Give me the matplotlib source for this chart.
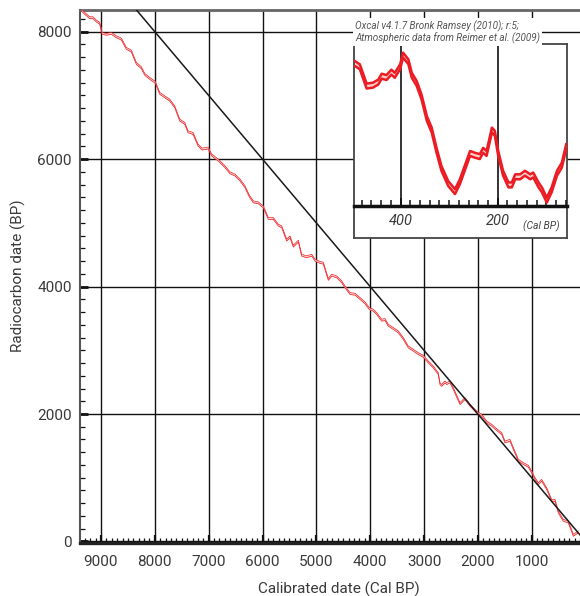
import numpy as np
import matplotlib
matplotlib.use("Agg")
import matplotlib.pyplot as plt
from matplotlib.ticker import MultipleLocator, FixedLocator

plt.rcParams['font.family'] = ['Roboto', 'DejaVu Sans']

# IntCal09 calibration curve (calendar age vs radiocarbon age)
cal_bp = [9366, 9303, 9210, 9149, 9087, 9024, 8981, 8902, 8809, 8716, 8623, 8530,
          8437, 8344, 8251, 8188, 8096, 7991, 7910, 7817, 7724, 7631, 7538, 7445,
          7384, 7291, 7198, 7124, 7010, 6944, 6821, 6697, 6604, 6511, 6418, 6325,
          6245, 6171, 6078, 5986, 5893, 5800, 5707, 5644, 5551, 5490, 5428, 5335,
          5273, 5180, 5087, 5025, 4932, 4871, 4778, 4715, 4622, 4529, 4468, 4375,
          4282, 4189, 4096, 4017, 3943, 3880, 3787, 3726, 3664, 3571, 3478, 3385,
          3293, 3200, 3107, 3014, 2921, 2828, 2735, 2704, 2672, 2611, 2579, 2518,
          2456, 2332, 2239, 2146, 2022, 1929, 1836, 1743, 1650, 1557, 1496, 1403,
          1341, 1248, 1155, 1062, 1000, 939, 877, 815, 722, 629, 568, 506, 413,
          320, 227, 134]
c14_bp = [8341, 8289, 8220, 8220, 8168, 8132, 7975, 7959, 7975, 7922, 7885, 7739,
          7697, 7503, 7435, 7331, 7268, 7205, 7033, 6979, 6927, 6822, 6613, 6561,
          6430, 6404, 6221, 6158, 6174, 6064, 5985, 5880, 5786, 5750, 5671, 5566,
          5420, 5330, 5314, 5252, 5070, 5070, 4964, 4938, 4729, 4781, 4634, 4713,
          4493, 4467, 4493, 4415, 4380, 4367, 4113, 4179, 4153, 4074, 3995, 3891,
          3880, 3813, 3744, 3655, 3629, 3577, 3472, 3483, 3394, 3342, 3289, 3185,
          3053, 3001, 2948, 2906, 2817, 2738, 2633, 2477, 2449, 2503, 2477, 2503,
          2399, 2163, 2242, 2137, 2032, 1980, 1875, 1823, 1755, 1692, 1561, 1587,
          1457, 1274, 1222, 1179, 1090, 986, 908, 959, 829, 645, 645, 462, 332,
          305, 97, 149]
curve_sigma = 15

# Detail of the last five centuries
inset_cal = [494, 484, 470, 457, 446, 439, 429, 419, 412, 401, 395, 384, 377, 367,
             357, 346, 336, 326, 316, 302, 288, 278, 267, 257, 247, 237, 230, 223,
             212, 206, 199, 189, 178, 171, 164, 154, 144, 133, 127, 116, 109, 99,
             89, 78, 68, 59]
inset_c14 = [377, 370, 327, 329, 336, 349, 346, 358, 351, 370, 396, 381, 351, 333,
             303, 255, 229, 184, 144, 110, 92, 114, 147, 177, 173, 170, 184, 177,
             229, 222, 177, 133, 107, 107, 125, 125, 133, 125, 129, 107, 96, 73,
             96, 133, 151, 192]
inset_sigma = 5.5

x_major = [0, 1000, 2000, 3000, 4000, 5000, 6000, 7000, 8000, 9000]
y_major = [0, 2000, 4000, 6000, 8000]
inset_ticks = [400, 200]

RED = '#ec1c24'
PINK = '#fbd0c8'
TXT = '#3a3a3a'
W, H = 580, 596

fig = plt.figure(figsize=(W / 100, H / 100), dpi=100)

def fbox(x0, y0, x1, y1):
    return [x0 / W, 1 - y1 / H, (x1 - x0) / W, (y1 - y0) / H]

ax = fig.add_axes(fbox(80, 10, 590.9, 542.7))
ax.set_xlim(9390, -100)
ax.set_ylim(-20, 8341)

cal = np.array(cal_bp)
c14 = np.array(c14_bp)
ax.fill_between(cal, c14 - curve_sigma, c14 + curve_sigma, color=PINK, lw=0, zorder=3)
ax.plot(cal, c14 - curve_sigma, color=RED, lw=0.5, zorder=4)
ax.plot(cal, c14 + curve_sigma, color=RED, lw=0.5, zorder=4)
ax.axline((0, 0), slope=1, color='#1a1a1a', lw=1.1, zorder=5)

ax.xaxis.set_major_locator(FixedLocator(x_major))
ax.xaxis.set_minor_locator(MultipleLocator(100))
ax.yaxis.set_major_locator(FixedLocator(y_major))
ax.yaxis.set_minor_locator(MultipleLocator(200))
ax.grid(True, which='major', color='#111111', lw=1.0, zorder=1)
ax.tick_params(axis='x', which='major', direction='in', length=6, width=1.6,
               labelsize=11, pad=9, labelcolor=TXT, color='#111')
ax.tick_params(axis='x', which='minor', direction='in', length=3.5, width=0.9,
               color='#111')
ax.tick_params(axis='y', which='major', direction='in', length=6, width=2,
               labelsize=11, pad=6, labelcolor=TXT, color='#111')
ax.tick_params(axis='y', which='minor', direction='in', length=3.5, width=0.9,
               color='#111')
ax.spines['top'].set_color('#666666')
ax.spines['top'].set_linewidth(2)
ax.spines['left'].set_color('#555555')
ax.spines['left'].set_linewidth(1.5)
ax.spines['bottom'].set_color('#222222')
ax.spines['bottom'].set_linewidth(2.4)
ax.spines['right'].set_visible(False)

fig.text(339 / W, 1 - 589 / H, 'Calibrated date (Cal BP)', ha='center', va='center',
         fontsize=11, color=TXT)
fig.text(18 / W, 1 - 276 / H, 'Radiocarbon date (BP)', ha='center', va='center',
         rotation=90, fontsize=11, color=TXT)

# Inset: frame plus plotting area
frame = fig.add_axes(fbox(354, 44.3, 566.7, 238), zorder=3)
frame.set_xticks([])
frame.set_yticks([])
frame.set_facecolor('white')
for s in frame.spines.values():
    s.set_color('#444444')
    s.set_linewidth(1.3)

ins = fig.add_axes(fbox(354, 44.3, 566.7, 206), zorder=4)
ins.set_facecolor('none')
ins.set_xlim(496, 58)
ins.set_ylim(60, 420)
icl = np.array(inset_cal)
ic = np.array(inset_c14)
ins.fill_between(icl, ic - inset_sigma, ic + inset_sigma, color=PINK, lw=0, zorder=3)
ins.plot(icl, ic - inset_sigma, color=RED, lw=1.8, zorder=4)
ins.plot(icl, ic + inset_sigma, color=RED, lw=1.8, zorder=4)
ins.xaxis.set_major_locator(FixedLocator(inset_ticks))
ins.xaxis.set_minor_locator(MultipleLocator(20))
ins.set_yticks([])
ins.grid(True, axis='x', which='major', color='#111111', lw=1.2, zorder=2)
ins.tick_params(axis='x', which='major', direction='in', length=6, width=1.3,
                labelsize=10.5, pad=6, labelcolor=TXT, color='#111')
ins.tick_params(axis='x', which='minor', direction='in', length=4.5, width=1.1,
                color='#111')
for lab in ins.get_xticklabels():
    lab.set_style('italic')
for side in ('top', 'left', 'right'):
    ins.spines[side].set_visible(False)
ins.spines['bottom'].set_color('#111111')
ins.spines['bottom'].set_linewidth(2.5)

fig.text(560 / W, 1 - 226 / H, '(Cal BP)', ha='right', va='center', fontsize=7.5,
         style='italic', color='#444444', zorder=6)
fig.text(355 / W, 1 - 32 / H,
         'Oxcal v4.1.7 Bronk Ramsey (2010); r:5;\nAtmospheric data from Reimer et al. (2009)',
         ha='left', va='center', fontsize=7.1, style='italic', color='#555555',
         linespacing=1.0, zorder=6,
         bbox=dict(facecolor='white', edgecolor='none', pad=1.5))

fig.savefig('out.png', dpi=100)
